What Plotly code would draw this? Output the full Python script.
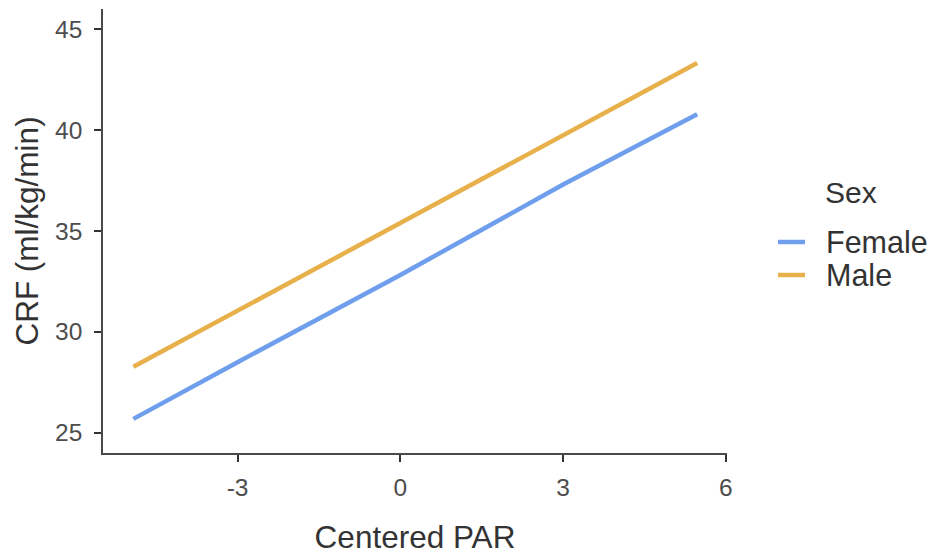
import plotly.graph_objects as go

# Data
par_x = [-4.92, -3.0, 0.0, 3.0, 5.47]
crf_female = [25.69, 28.5, 32.82, 37.3, 40.79]
crf_male = [28.27, 31.05, 35.40, 39.75, 43.32]
series_names = ["Female", "Male"]
series_colors = ["#6f9fec", "#e8b04b"]
x_ticks = [-3, 0, 3, 6]
y_ticks = [25, 30, 35, 40, 45]
legend_title = "Sex"

FONT = "Liberation Sans, Arial, sans-serif"

# page body has an 8px margin; size the figure to fill the rest of the window
OFF = 8
W, H = 935 - OFF, 555 - OFF
L, R, T, B = 95, 208, 1, 102
PW, PH = W - L - R, H - T - B


def sx(px):
    return (px - OFF - L) / PW


def sy(py):
    return 1 - (py - OFF - T) / PH


fig = go.Figure()
for name, ys, col in zip(series_names, [crf_female, crf_male], series_colors):
    fig.add_trace(go.Scatter(x=par_x, y=ys, mode="lines", name=name,
                             line=dict(color=col, width=4.5), showlegend=False))

axis_common = dict(showgrid=False, zeroline=False, showline=True,
                   linecolor="#4a4a4a", linewidth=1.6, ticks="outside",
                   tickcolor="#333333", tickwidth=2, ticklen=7,
                   tickfont=dict(family=FONT, size=24.5, color="#4d4d4d"))

shapes = []
annotations = [dict(text=legend_title, xref="paper", yref="paper",
                    x=sx(823), xanchor="left", y=sy(192), yanchor="middle",
                    showarrow=False, font=dict(family=FONT, size=30, color="#333333"))]
for i, (name, col) in enumerate(zip(series_names, series_colors)):
    yc = 242 + 33 * i
    shapes.append(dict(type="line", xref="paper", yref="paper",
                       x0=sx(778), x1=sx(805), y0=sy(yc), y1=sy(yc),
                       line=dict(color=col, width=4.5)))
    annotations.append(dict(text=name, xref="paper", yref="paper",
                            x=sx(824), xanchor="left", y=sy(yc), yanchor="middle",
                            showarrow=False,
                            font=dict(family=FONT, size=30.5, color="#333333")))

fig.update_layout(
    width=W, height=H,
    margin=dict(l=L, r=R, t=T, b=B, autoexpand=False),
    paper_bgcolor="white", plot_bgcolor="white",
    font=dict(family=FONT),
    showlegend=False,
    xaxis=dict(range=[-5.48, 6.02], tickvals=x_ticks, ticktext=[str(v) for v in x_ticks],
               ticklabelstandoff=5,
               title=dict(text="Centered PAR", font=dict(family=FONT, size=31.5, color="#333333"),
                          standoff=27),
               **axis_common),
    yaxis=dict(range=[24.0, 46.0], tickvals=y_ticks, ticktext=[str(v) for v in y_ticks],
               ticklabelstandoff=7,
               title=dict(text="CRF (ml/kg/min)", font=dict(family=FONT, size=31.5, color="#333333"),
                          standoff=7),
               **axis_common),
    shapes=shapes,
    annotations=annotations,
)

fig.write_html("out.html")
